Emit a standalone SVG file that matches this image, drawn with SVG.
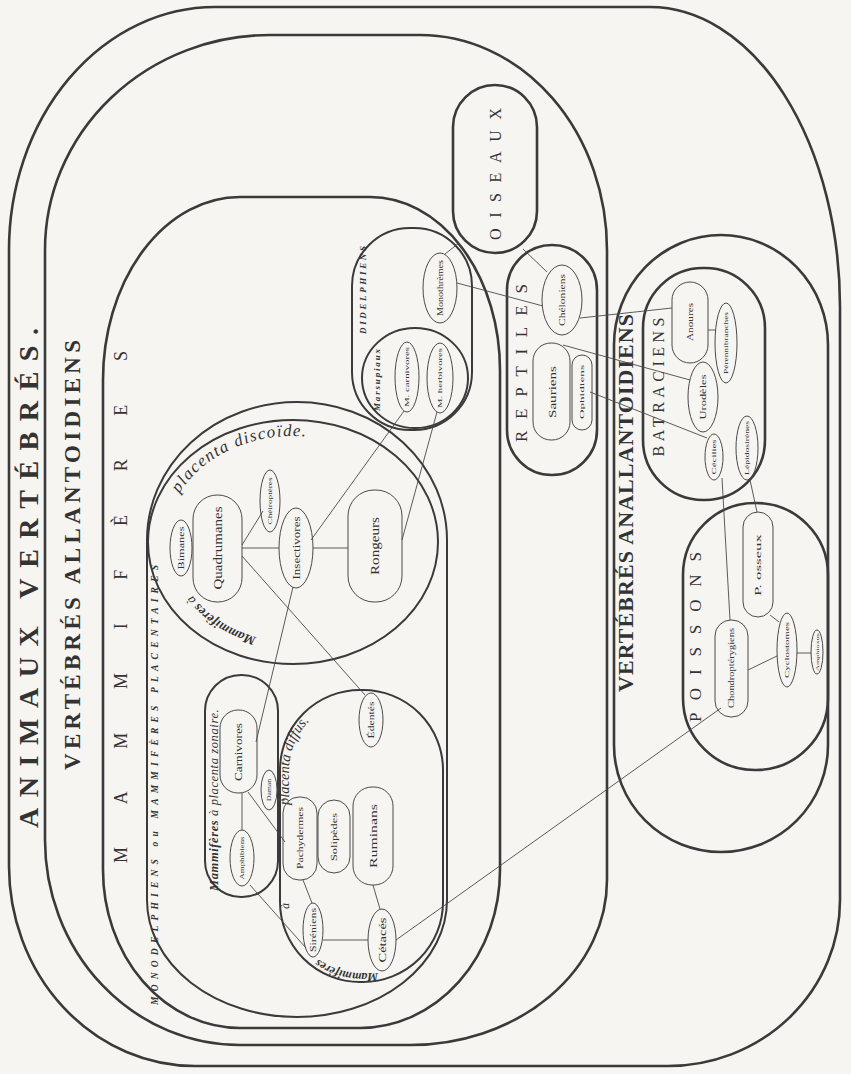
<svg xmlns="http://www.w3.org/2000/svg" width="851" height="1074" viewBox="0 0 851 1074">
<defs>
<style>
.bg{fill:#f6f5f2}
.frame{fill:none;stroke:#3a3a3a;stroke-width:2.6}
.sub{fill:none;stroke:#3a3a3a;stroke-width:2}
.node{fill:none;stroke:#4a4a4a;stroke-width:1}
.edge{stroke:#4a4a4a;stroke-width:0.9;fill:none}
text{font-family:"Liberation Serif","DejaVu Serif",serif;fill:#333}
.big{font-weight:bold}
.ital{font-style:italic}
.lbl{text-anchor:middle}
</style>
<path id="pDisc" d="M 268,648 A 128,106 0 0 1 165,542 A 128,106 0 0 1 293,436 A 128,106 0 0 1 421,542"/>
<path id="pMam" d="M 270,640 A 118,98 0 0 1 175,545"/>
<path id="pZon" d="M 218,895 L 218,712 A 24,28 0 0 1 266,712"/>
<path id="pDif" d="M 382,973 L 361,973 A 72,72 0 0 1 289,901 L 289,771 A 72,72 0 0 1 361,699 L 368,699"/>
</defs>
<rect class="bg" x="0" y="0" width="851" height="1074"/>

<g id="animaux-vertebres">
<path class="frame" d="M 215,7 L 650,7 A 190,300 0 0 1 840,307 L 840,900 A 172,166 0 0 1 668,1066 L 195,1066 A 186,200 0 0 1 9,866 L 9,250 A 206,243 0 0 1 215,7 Z"/>
<text class="big" font-size="28" transform="translate(38,578) rotate(-90)" text-anchor="middle" textLength="500" lengthAdjust="spacing">ANIMAUX VERTÉBRÉS.</text>
</g>

<g id="allantoidiens">
<path class="frame" d="M 270,35 L 420,35 A 187,215 0 0 1 607,250 L 607,880 A 197,165 0 0 1 410,1045 L 240,1045 A 195,205 0 0 1 45,840 L 45,250 A 225,215 0 0 1 270,35 Z"/>
<text class="big" font-size="23" transform="translate(80,555) rotate(-90)" text-anchor="middle" textLength="430" lengthAdjust="spacing">VERTÉBRÉS ALLANTOIDIENS</text>
</g>

<g id="mammiferes">
<path class="frame" d="M 240,197 L 370,197 A 130,173 0 0 1 500,370 L 500,870 A 140,158 0 0 1 360,1028 L 240,1028 A 137,158 0 0 1 103,870 L 103,380 A 137,183 0 0 1 240,197 Z"/>
<text font-size="18" transform="translate(127,607) rotate(-90)" text-anchor="middle" textLength="512" lengthAdjust="spacing">M A M M I F È R E S</text>
</g>

<g id="monodelphiens">
<path class="sub" d="M 147,540 A 150,138 0 0 1 447,540 L 447,900 A 150,117 0 0 1 147,900 Z"/>
<text class="big ital" font-size="9.5" transform="translate(158,785) rotate(-90)" text-anchor="middle" textLength="440" lengthAdjust="spacing">MONODELPHIENS ou MAMMIFÈRES PLACENTAIRES</text>
</g>

<g id="placenta-discoide">
<ellipse class="sub" cx="293" cy="542" rx="145" ry="122"/>
<text class="ital" font-size="13"><textPath href="#pMam" startOffset="14"><tspan font-weight="bold">Mammifères</tspan> à</textPath></text>
<text class="ital" font-size="17" letter-spacing="1.3"><textPath href="#pDisc" startOffset="212">placenta discoïde.</textPath></text>
</g>

<g id="placenta-zonaire">
<rect class="sub" x="205" y="675" width="73" height="222" rx="36" ry="36"/>
<text class="ital" font-size="12.5" letter-spacing="0.6"><textPath href="#pZon" startOffset="4"><tspan font-weight="bold">Mammifères</tspan> à placenta zonaire.</textPath></text>
</g>

<g id="placenta-diffus">
<rect class="sub" x="280" y="690" width="163" height="292" rx="80" ry="80"/>
<text class="ital" font-size="12"><textPath href="#pDif" startOffset="4" font-weight="bold">Mammifères</textPath></text>
<text class="ital" font-size="12"><textPath href="#pDif" startOffset="126">à</textPath></text>
<text class="ital" font-size="14.5"><textPath href="#pDif" startOffset="230">placenta diffus.</textPath></text>
</g>

<g id="didelphiens">
<rect class="sub" x="352" y="228" width="120" height="202" rx="58" ry="58"/>
<text class="big ital" font-size="9" transform="translate(366,290) rotate(-90)" text-anchor="middle" textLength="88" lengthAdjust="spacing">DIDELPHIENS</text>
</g>

<g id="marsupiaux">
<ellipse class="sub" cx="415" cy="378" rx="53" ry="50"/>
<text class="big ital" font-size="9" transform="translate(380,380) rotate(-90)" text-anchor="middle" textLength="62" lengthAdjust="spacing">Marsupiaux</text>
</g>

<g id="oiseaux">
<rect class="frame" x="453" y="85" width="84" height="168" rx="42" ry="42"/>
<text font-size="16" transform="translate(501,174) rotate(-90)" text-anchor="middle" textLength="132" lengthAdjust="spacing">O I S E A U X</text>
</g>

<g id="reptiles">
<rect class="frame" x="507" y="245" width="90" height="230" rx="45" ry="45"/>
<text font-size="17" transform="translate(527,363) rotate(-90)" text-anchor="middle" textLength="158" lengthAdjust="spacing">R E P T I L E S</text>
</g>

<g id="anallantoidiens">
<path class="frame" d="M 614,345 A 107,110 0 0 1 828,345 L 828,745 A 107,107 0 0 1 614,745 Z"/>
<text class="big" font-size="22" transform="translate(633,503) rotate(-90)" text-anchor="middle" textLength="378" lengthAdjust="spacing">VERTÉBRÉS ANALLANTOIDIENS</text>
</g>

<g id="batraciens">
<rect class="frame" x="643" y="268" width="122" height="232" rx="60" ry="60"/>
<text font-size="16" transform="translate(664,387) rotate(-90)" text-anchor="middle" textLength="139" lengthAdjust="spacing">BATRACIENS</text>
</g>

<g id="poissons">
<rect class="frame" x="683" y="503" width="145" height="267" rx="72" ry="72"/>
<text font-size="17" transform="translate(701,637) rotate(-90)" text-anchor="middle" textLength="170" lengthAdjust="spacing">P O I S S O N S</text>
</g>

<g id="connectors">
<line class="edge" x1="242" y1="548" x2="279" y2="548"/>
<line class="edge" x1="242" y1="545" x2="263" y2="511"/>
<line class="edge" x1="313" y1="548" x2="348" y2="548"/>
<line class="edge" x1="311" y1="540" x2="404" y2="411"/>
<line class="edge" x1="402" y1="540" x2="437" y2="412"/>
<line class="edge" x1="242" y1="556" x2="365" y2="695"/>
<line class="edge" x1="293" y1="587" x2="256" y2="742"/>
<line class="edge" x1="242" y1="793" x2="242" y2="830"/>
<line class="edge" x1="248" y1="792" x2="285" y2="842"/>
<line class="edge" x1="277" y1="800" x2="285" y2="800"/>
<line class="edge" x1="250" y1="885" x2="306" y2="948"/>
<line class="edge" x1="303" y1="880" x2="312" y2="903"/>
<line class="edge" x1="373" y1="885" x2="380" y2="909"/>
<line class="edge" x1="323" y1="940" x2="368" y2="940"/>
<line class="edge" x1="396" y1="940" x2="721" y2="708"/>
<line class="edge" x1="459" y1="243" x2="445" y2="254"/>
<line class="edge" x1="523" y1="249" x2="547" y2="272"/>
<line class="edge" x1="457" y1="283" x2="543" y2="306"/>
<line class="edge" x1="580" y1="318" x2="672" y2="308"/>
<line class="edge" x1="563" y1="345" x2="690" y2="380"/>
<line class="edge" x1="590" y1="392" x2="707" y2="438"/>
<line class="edge" x1="708" y1="330" x2="715" y2="330"/>
<line class="edge" x1="750" y1="480" x2="757" y2="512"/>
<line class="edge" x1="722" y1="478" x2="730" y2="620"/>
<line class="edge" x1="770" y1="615" x2="779" y2="622"/>
<line class="edge" x1="748" y1="670" x2="777" y2="656"/>
<line class="edge" x1="797" y1="653" x2="811" y2="653"/>
</g>

<g id="bimanes"><ellipse class="node" cx="181" cy="548" rx="11" ry="28"/><text class="lbl" font-size="8" dy="0.35em" transform="translate(181,548) rotate(-90)" textLength="43" lengthAdjust="spacingAndGlyphs">Bimanes</text></g>
<g id="quadrumanes"><rect class="node" x="193" y="495" width="49" height="107" rx="24" ry="24"/><text class="lbl" font-size="12" dy="0.35em" transform="translate(218,548) rotate(-90)" textLength="83" lengthAdjust="spacingAndGlyphs">Quadrumanes</text></g>
<g id="cheiropteres"><ellipse class="node" cx="270" cy="501" rx="10" ry="31"/><text class="lbl" font-size="7" dy="0.35em" transform="translate(270,501) rotate(-90)" textLength="47" lengthAdjust="spacingAndGlyphs">Chéiroptères</text></g>
<g id="insectivores"><ellipse class="node" cx="296" cy="548" rx="17" ry="40"/><text class="lbl" font-size="11" dy="0.35em" transform="translate(296,548) rotate(-90)" textLength="63" lengthAdjust="spacingAndGlyphs">Insectivores</text></g>
<g id="rongeurs"><rect class="node" x="348" y="490" width="54" height="112" rx="26" ry="26"/><text class="lbl" font-size="12" dy="0.35em" transform="translate(375,546) rotate(-90)" textLength="58" lengthAdjust="spacingAndGlyphs">Rongeurs</text></g>
<g id="carnivores"><rect class="node" x="220" y="710" width="37" height="83" rx="18" ry="18"/><text class="lbl" font-size="10" dy="0.35em" transform="translate(238,752) rotate(-90)" textLength="58" lengthAdjust="spacingAndGlyphs">Carnivores</text></g>
<g id="daman"><ellipse class="node" cx="269" cy="790" rx="8" ry="20"/><text class="lbl" font-size="6" dy="0.35em" transform="translate(269,790) rotate(-90)" textLength="22" lengthAdjust="spacingAndGlyphs">Daman</text></g>
<g id="amphibiens"><ellipse class="node" cx="242" cy="858" rx="12" ry="28"/><text class="lbl" font-size="7" dy="0.35em" transform="translate(242,858) rotate(-90)" textLength="43" lengthAdjust="spacingAndGlyphs">Amphibiens</text></g>
<g id="edentes"><ellipse class="node" cx="371" cy="720" rx="12" ry="27"/><text class="lbl" font-size="9" dy="0.35em" transform="translate(371,720) rotate(-90)" textLength="37" lengthAdjust="spacingAndGlyphs">Édentés</text></g>
<g id="pachydermes"><rect class="node" x="283" y="797" width="34" height="83" rx="16" ry="16"/><text class="lbl" font-size="9" dy="0.35em" transform="translate(300,838) rotate(-90)" textLength="62" lengthAdjust="spacingAndGlyphs">Pachydermes</text></g>
<g id="solipedes"><rect class="node" x="318" y="800" width="32" height="73" rx="16" ry="16"/><text class="lbl" font-size="9" dy="0.35em" transform="translate(334,837) rotate(-90)" textLength="48" lengthAdjust="spacingAndGlyphs">Solipèdes</text></g>
<g id="ruminans"><rect class="node" x="353" y="787" width="40" height="98" rx="19" ry="19"/><text class="lbl" font-size="11" dy="0.35em" transform="translate(373,836) rotate(-90)" textLength="64" lengthAdjust="spacingAndGlyphs">Ruminans</text></g>
<g id="sireniens"><ellipse class="node" cx="313" cy="930" rx="10" ry="27"/><text class="lbl" font-size="8" dy="0.35em" transform="translate(313,930) rotate(-90)" textLength="44" lengthAdjust="spacingAndGlyphs">Siréniens</text></g>
<g id="cetaces"><ellipse class="node" cx="382" cy="940" rx="14" ry="31"/><text class="lbl" font-size="10" dy="0.35em" transform="translate(382,940) rotate(-90)" textLength="45" lengthAdjust="spacingAndGlyphs">Cétacés</text></g>
<g id="monothremes"><ellipse class="node" cx="440" cy="288" rx="17" ry="35"/><text class="lbl" font-size="8" dy="0.35em" transform="translate(440,288) rotate(-90)" textLength="56" lengthAdjust="spacingAndGlyphs">Monothrèmes</text></g>
<g id="m-carnivores"><ellipse class="node" cx="407" cy="377" rx="12" ry="35"/><text class="lbl" font-size="7" dy="0.35em" transform="translate(407,377) rotate(-90)" textLength="60" lengthAdjust="spacingAndGlyphs">M. carnivores</text></g>
<g id="m-herbivores"><ellipse class="node" cx="440" cy="378" rx="13" ry="35"/><text class="lbl" font-size="7" dy="0.35em" transform="translate(440,378) rotate(-90)" textLength="60" lengthAdjust="spacingAndGlyphs">M. herbivores</text></g>
<g id="cheloniens"><ellipse class="node" cx="562" cy="300" rx="20" ry="35"/><text class="lbl" font-size="8" dy="0.35em" transform="translate(562,300) rotate(-90)" textLength="52" lengthAdjust="spacingAndGlyphs">Chéloniens</text></g>
<g id="sauriens"><rect class="node" x="533" y="343" width="37" height="97" rx="18" ry="18"/><text class="lbl" font-size="10" dy="0.35em" transform="translate(552,392) rotate(-90)" textLength="52" lengthAdjust="spacingAndGlyphs">Sauriens</text></g>
<g id="ophidiens"><rect class="node" x="572" y="355" width="20" height="75" rx="10" ry="10"/><text class="lbl" font-size="7" dy="0.35em" transform="translate(582,392) rotate(-90)" textLength="54" lengthAdjust="spacingAndGlyphs">Ophidiens</text></g>
<g id="anoures"><rect class="node" x="672" y="282" width="36" height="81" rx="18" ry="18"/><text class="lbl" font-size="8" dy="0.35em" transform="translate(690,322) rotate(-90)" textLength="38" lengthAdjust="spacingAndGlyphs">Anoures</text></g>
<g id="perennibranches"><ellipse class="node" cx="726" cy="343" rx="11" ry="40"/><text class="lbl" font-size="6" dy="0.35em" transform="translate(726,343) rotate(-90)" textLength="62" lengthAdjust="spacingAndGlyphs">Pérennibranches</text></g>
<g id="urodeles"><ellipse class="node" cx="703" cy="397" rx="15" ry="35"/><text class="lbl" font-size="8" dy="0.35em" transform="translate(703,397) rotate(-90)" textLength="45" lengthAdjust="spacingAndGlyphs">Urodèles</text></g>
<g id="cecilies"><ellipse class="node" cx="714" cy="457" rx="9" ry="23"/><text class="lbl" font-size="7" dy="0.35em" transform="translate(714,457) rotate(-90)" textLength="35" lengthAdjust="spacingAndGlyphs">Cécilies</text></g>
<g id="lepidosirenes"><ellipse class="node" cx="747" cy="448" rx="11" ry="32"/><text class="lbl" font-size="6" dy="0.35em" transform="translate(747,448) rotate(-90)" textLength="54" lengthAdjust="spacingAndGlyphs">Lépidosirènes</text></g>
<g id="p-osseux"><rect class="node" x="743" y="512" width="30" height="105" rx="15" ry="15"/><text class="lbl" font-size="9" dy="0.35em" transform="translate(758,565) rotate(-90)" textLength="62" lengthAdjust="spacingAndGlyphs">P.     osseux</text></g>
<g id="chondropterygiens"><rect class="node" x="715" y="620" width="33" height="97" rx="16" ry="16"/><text class="lbl" font-size="8" dy="0.35em" transform="translate(731,668) rotate(-90)" textLength="80" lengthAdjust="spacingAndGlyphs">Chondroptérygiens</text></g>
<g id="cyclostomes"><ellipse class="node" cx="787" cy="650" rx="10" ry="37"/><text class="lbl" font-size="7" dy="0.35em" transform="translate(787,650) rotate(-90)" textLength="56" lengthAdjust="spacingAndGlyphs">Cyclostomes</text></g>
<g id="amphioxus"><ellipse class="node" cx="817" cy="652" rx="6" ry="22"/><text class="lbl" font-size="5" dy="0.35em" transform="translate(817,652) rotate(-90)" textLength="38" lengthAdjust="spacingAndGlyphs">Amphioxus</text></g>
</svg>
